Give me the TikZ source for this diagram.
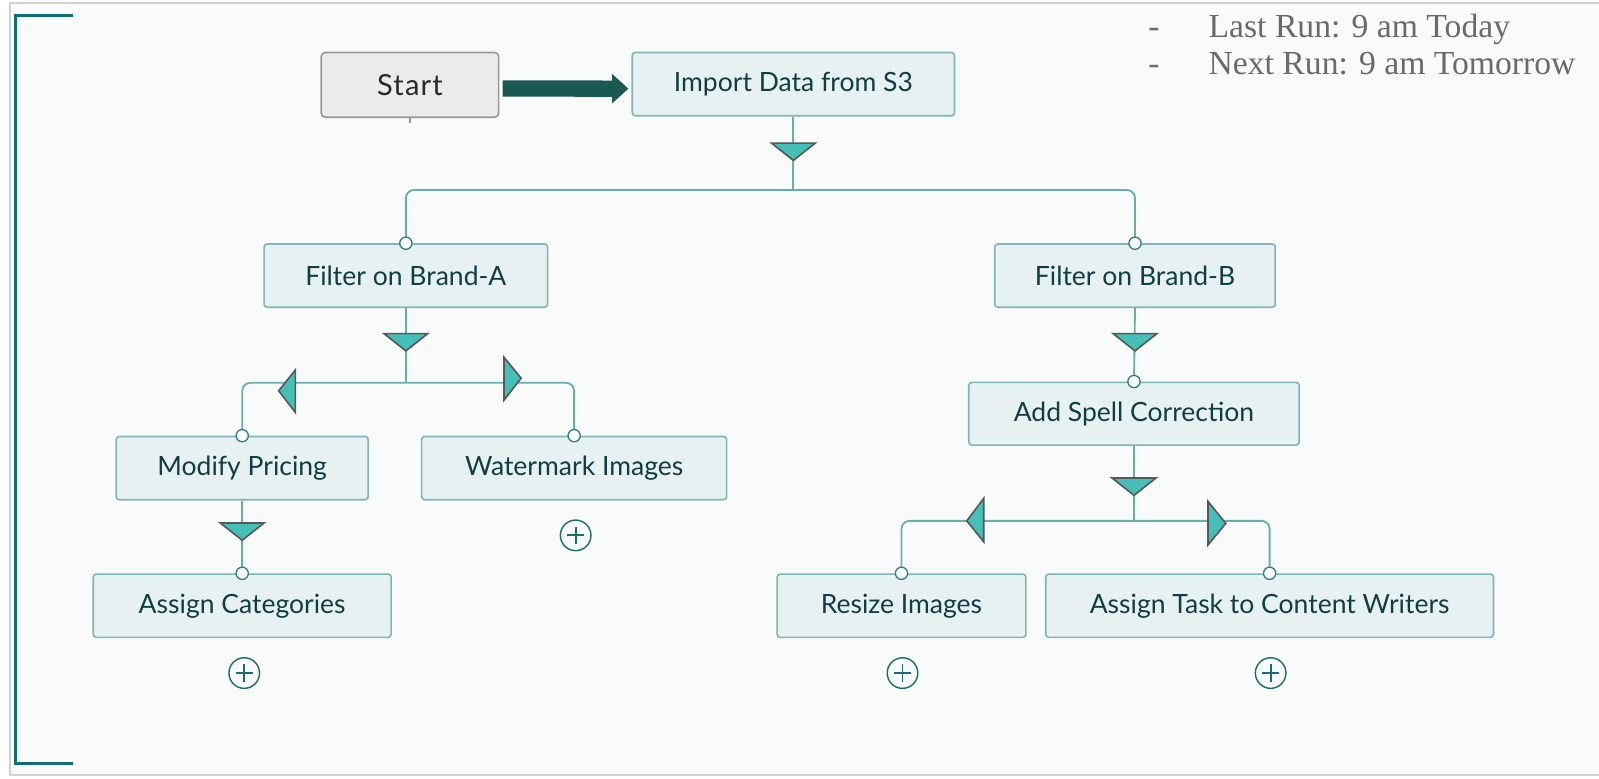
\documentclass[tikz,border=0pt]{standalone}
\usepackage{fontspec}
\setmainfont{Lato}
\newfontfamily\notefont{Liberation Serif}
\newfontfamily\startfont[LetterSpace=4]{Lato}
\usetikzlibrary{arrows.meta,calc}

\definecolor{outerbg}{HTML}{FFFFFF}
\definecolor{panelbg}{HTML}{F9FBFB}
\definecolor{panelrim}{HTML}{D2D2D2}
\definecolor{brk}{HTML}{0F6D76}
\definecolor{boxfill}{HTML}{E8F1F2}
\definecolor{boxrim}{HTML}{7FB5B8}
\definecolor{boxtext}{HTML}{0E3F44}
\definecolor{wirecol}{HTML}{6AADB0}
\definecolor{trifill}{HTML}{45C0B8}
\definecolor{trifillpale}{HTML}{72C2C3}
\definecolor{tririm}{HTML}{585858}
\definecolor{dotrim}{HTML}{2B8087}
\definecolor{plusrim}{HTML}{1E6B71}
\definecolor{startfill}{HTML}{EBEBEB}
\definecolor{startrim}{HTML}{999999}
\definecolor{starttext}{HTML}{2A2A2A}
\definecolor{arrowcol}{HTML}{1A5853}
\definecolor{notetext}{HTML}{6A6A6A}

\tikzset{
  box/.style={draw=boxrim, fill=boxfill, line width=1.6pt, rounded corners=3pt,
    minimum height=62pt, inner sep=0pt, text=boxtext,
    font=\fontsize{26}{30}\selectfont},
  startbox/.style={draw=startrim, fill=startfill, line width=1.6pt, rounded corners=4pt,
    minimum height=63.5pt, minimum width=174pt, inner sep=0pt, text=starttext,
    font=\startfont\fontsize{28.5}{32}\selectfont},
  wire/.style={draw=wirecol, line width=1.8pt},
  forkwire/.style={wire, rounded corners=8pt},
  tri/.style={fill=trifill, draw=tririm, line width=1.6pt, line join=miter},
  dot/.style={circle, draw=dotrim, fill=white, line width=1.3pt,
    minimum size=12pt, inner sep=0pt},
  plusbtn/.style={circle, draw=plusrim, line width=1.4pt, minimum size=30pt,
    inner sep=0pt, path picture={
      \draw[plusrim, line width=1.8pt]
        ([xshift=-8.5pt]path picture bounding box.center) --
        ([xshift=8.5pt]path picture bounding box.center)
        ([yshift=-8.5pt]path picture bounding box.center) --
        ([yshift=8.5pt]path picture bounding box.center);}},
  note/.style={anchor=base west, inner sep=0pt, text=notetext,
    font=\notefont\fontsize{33}{38}\selectfont},
  dropdown/.pic={\path[tri, pic actions] (-21.5,0) -- (21.5,0) -- (0,17) -- cycle;},
  bigarrow/.style={draw=arrowcol, line width=16pt,
    -{Triangle[length=16pt, width=28pt]}},
}

\begin{document}
\begin{tikzpicture}[x=1pt, y=-1pt]
  % canvas and panel
  \useasboundingbox (0,0) rectangle (1568,763);
  \fill[outerbg] (0,0) rectangle (1568,763);
  \draw[panelrim, fill=panelbg, line width=1.5pt] (10,3) rectangle (1575,760);

  % bracket on the left
  \draw[brk, line width=3pt] (72,15) -- (15,15) -- (15,748.5) -- (72,748.5);

  % run schedule notes
  \node[note] (d1) at (1126,37) {-};
  \node[note] (n1) at (1185,37) {Last Run: 9 am Today};
  \node[note] (d2) at (1126,73.5) {-};
  \node[note] (n2) at (1185,73.5) {Next Run: 9 am Tomorrow};

  % steps
  \node[startbox] (start) at (402,83.2) {Start};
  \node[box, minimum width=316pt] (imp) at (778,82.5) {Import Data from S3};
  \node[box, minimum width=278pt] (fa) at (398,270.3) {Filter on Brand-A};
  \node[box, minimum width=275pt] (fb) at (1113,270.3) {Filter on Brand-B};
  \node[box, minimum width=247pt] (mp) at (237.5,459) {Modify Pricing};
  \node[box, minimum width=299pt] (wm) at (563,459) {Watermark Images};
  \node[box, minimum width=292pt] (ac) at (237.5,594) {Assign Categories};
  \node[box, minimum width=324pt, minimum height=61.5pt] (as) at (1112,405.7) {Add Spell Correction};
  \node[box, minimum width=244pt] (ri) at (884,594) {Resize Images};
  \node[box, minimum width=439pt] (at) at (1245,594) {Assign Task to Content Writers};

  % start arrow
  \draw[startrim, line width=1.2pt] (start.south) -- ++(0,5);
  \draw[bigarrow] ([xshift=3pt, yshift=-3.5pt]start.east) -- ([xshift=-3pt, yshift=-4.5pt]imp.west);

  % fork below the import step
  \coordinate (k1) at ([yshift=-72pt]imp.south);
  \draw[wire] (imp.south) -- (k1);
  \draw[forkwire] (fa.north) |- (k1) -| (fb.north);
  \pic[fill=trifillpale] at ([yshift=-26pt]imp.south) {dropdown};

  % brand A branch
  \coordinate (k2) at ([yshift=-73.3pt]fa.south);
  \draw[wire] (fa.south) -- (k2);
  \draw[forkwire] (mp.north) |- (k2) -| (wm.north);
  \pic at ([yshift=-25pt]fa.south) {dropdown};
  \draw[tri] ($(k2)+(-108.4,-12.6)$) -- ++(0,41.6) -- ($(k2)+(-124.7,7.8)$) -- cycle;
  \draw[tri] ($(k2)+(96.2,-25)$) -- ++(0,42) -- ($(k2)+(113,-4.6)$) -- cycle;

  \draw[wire] (mp.south) -- (ac.north);
  \pic at ([yshift=-22pt]mp.south) {dropdown};

  % brand B branch
  \draw[wire] (fb.south) -- (as.north);
  \pic at ([yshift=-25pt]fb.south) {dropdown};

  \coordinate (k3) at ([yshift=-73.5pt]as.south);
  \draw[wire] (as.south) -- (k3);
  \draw[forkwire] (ri.north) |- (k3) -| (at.north);
  \pic at ([yshift=-31.5pt]as.south) {dropdown};
  \draw[tri] ($(k3)+(-147.4,-22)$) -- ++(0,42.5) -- ($(k3)+(-164,0)$) -- cycle;
  \draw[tri] ($(k3)+(72.6,-19)$) -- ++(0,42.6) -- ($(k3)+(90,2.5)$) -- cycle;

  % input ports
  \foreach \n in {fa,fb,mp,wm,ac,as,ri,at}
    \node[dot] at (\n.north) {};

  % add buttons
  \node[plusbtn] (pwm) at (564.5,525) {};
  \node[plusbtn] (pac) at (239.5,660) {};
  \node[plusbtn] (pri) at (885,660) {};
  \node[plusbtn] (pat) at (1246,660) {};
\end{tikzpicture}
\end{document}
